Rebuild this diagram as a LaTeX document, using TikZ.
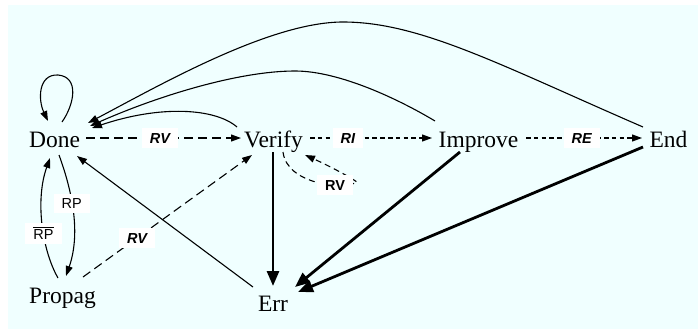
\documentclass[tikz,border=0pt]{standalone}
\usepackage{fontspec}
\setmainfont{Liberation Serif}
\setsansfont{Liberation Sans}
\usetikzlibrary{arrows.meta}
\definecolor{bgcyan}{HTML}{F0FFFF}
\begin{document}
\begin{tikzpicture}[x=1pt,y=-1pt,
  st/.style={font=\fontsize{23.5}{28}\selectfont, inner sep=0pt, anchor=base},
  lbl/.style={font=\sffamily\fontsize{14.5}{16}\selectfont, fill=white, inner xsep=8pt, inner ysep=4.5pt, text height=10.5pt, text depth=0pt},
  elbl/.style={lbl, font=\sffamily\bfseries\itshape\fontsize{14.5}{16}\selectfont},
  blbl/.style={lbl, font=\sffamily\bfseries\fontsize{14.5}{16}\selectfont},
  ethin/.style={line width=1.1pt, -{Triangle[length=10pt,width=7pt]}},
  ethick/.style={line width=2.8pt, -{Triangle[length=15pt,width=12pt]}},
  longdash/.style={ethin, dash pattern=on 9pt off 5pt},
  shortdash/.style={ethin, dash pattern=on 4.5pt off 3.3pt},
  middash/.style={ethin, dash pattern=on 6pt off 4pt},
]
\fill[bgcyan] (8,5) rectangle (698,329);
\useasboundingbox (0,0) rectangle (698,329);

\node[st] (Done) at (54.5,147) {Done};
\node[st] (Verify) at (273.5,147) {Verify};
\node[st] (Improve) at (478.5,147) {Improve};
\node[st] (End) at (668.5,147) {End};
\node[st] (Propag) at (62.5,303) {Propag};
\node[st] (Err) at (273,311) {Err};

% Done self loop
\draw[ethin] ([shift={(7.5,-25)}]Done.base) .. controls (74,105) and (80,77) .. (58,75)
  .. controls (38,74) and (38,100) .. ([shift={(-6.5,-26)}]Done.base);

% Done -> Verify
\draw[longdash] ([shift={(31.5,-9)}]Done.base) -- node[elbl,pos=0.477]{RV} ([shift={(-32.5,-9)}]Verify.base);

% back edges to Done
\draw[ethin] ([shift={(-36.5,-20)}]Verify.base) .. controls (215,108) and (160,105) .. ([shift={(37.5,-19)}]Done.base);
\draw[ethin] ([shift={(-43.5,-26)}]Improve.base) .. controls (400,100) and (340,71) .. (295,71)
  .. controls (240,71) and (160,95) .. ([shift={(35.5,-21)}]Done.base);
\draw[ethin] ([shift={(-25.5,-20)}]End.base) .. controls (500,65) and (420,22) .. (343,22)
  .. controls (270,22) and (160,85) .. ([shift={(33.5,-24)}]Done.base);

% Verify -> Improve -> End
\draw[shortdash] ([shift={(36.5,-9)}]Verify.base) -- node[elbl,pos=0.31]{RI} ([shift={(-46.5,-9)}]Improve.base);
\draw[shortdash] ([shift={(47.5,-9)}]Improve.base) -- node[elbl,pos=0.48]{RE} ([shift={(-26.5,-9)}]End.base);

% Verify self loop
\draw[middash] ([shift={(9.5,5)}]Verify.base) .. controls (287,185) and (345,190) .. (357,182)
  .. controls (345,174) and (325,164) .. ([shift={(31.5,8)}]Verify.base);
\node[blbl] (lv) at (335,185) {RV};

% to Err
\draw[ethick] ([shift={(-0.5,5)}]Verify.base) -- ([shift={(0,-25)}]Err.base);
\draw[ethick] ([shift={(-18.5,5)}]Improve.base) -- ([shift={(22,-24)}]Err.base);
\draw[ethick] ([shift={(-25.5,0)}]End.base) -- ([shift={(25,-19)}]Err.base);

% Err -> Done
\draw[ethin] ([shift={(-20,-24)}]Err.base) -- ([shift={(22.5,9)}]Done.base);

% Propag -> Verify
\draw[longdash] ([shift={(20.5,-26)}]Propag.base) -- node[elbl,pos=0.32]{RV} ([shift={(-21.5,8)}]Verify.base);

% Done <-> Propag
\draw[ethin] ([shift={(4.5,8)}]Done.base) .. controls (70,185) and (82,230) .. node[lbl,pos=0.45]{RP} ([shift={(3.5,-27)}]Propag.base);
\draw[ethin] ([shift={(-4.5,-25)}]Propag.base) .. controls (42,250) and (35,200) .. node[lbl,pos=0.42,text height=11.5pt]{$\overline{\hbox{RP}}$} ([shift={(-4.5,11)}]Done.base);
\end{tikzpicture}
\end{document}
